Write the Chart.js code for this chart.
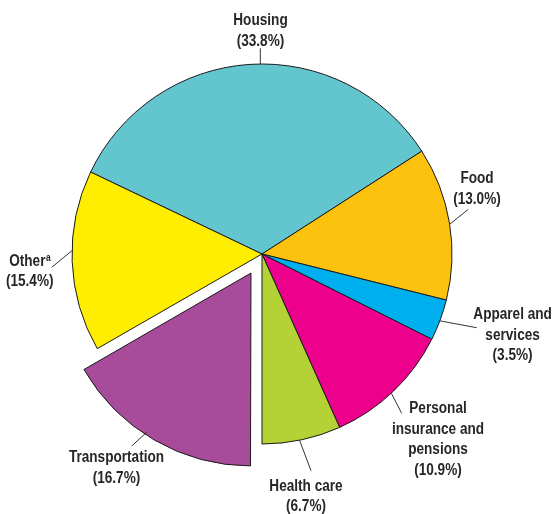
<!DOCTYPE html>
<html>
<head>
<meta charset="utf-8">
<script src="https://cdn.jsdelivr.net/npm/chart.js@4"></script>
<style>
  html, body { margin: 0; padding: 0; background: #ffffff; }
  #wrap { width: 554px; height: 514px; position: relative; }
</style>
</head>
<body>
<div id="wrap"><canvas id="c" width="554" height="514"></canvas></div>
<script>
// ---- data ----
const categories = ['Housing', 'Food', 'Apparel and services', 'Personal insurance and pensions', 'Health care', 'Transportation', 'Other'];
const shares = [33.8, 13.0, 3.5, 10.9, 6.7, 16.7, 15.4];
const labelNames = [['Housing'], ['Food'], ['Apparel and', 'services'], ['Personal', 'insurance and', 'pensions'], ['Health care'], ['Transportation'], ['Other']];
const footnoteMarks = ['', '', '', '', '', '', 'a'];
const explodedIndex = 5;

// ---- styles ----
const colors = ['#63c6cf', '#fdc20e', '#00afee', '#ec008c', '#b4d235', '#a94b9b', '#ffee00'];
const TEXT_COLOR = '#262626';
const FONT = 'bold 16px "Liberation Sans", Arial, sans-serif';
const SUP_FONT = 'bold 10px "Liberation Sans", Arial, sans-serif';
const TEXT_SCALE_X = 0.85;
const LINE_H = 20.5;
const EXPLODE_PX = 22;

// label layout relative to pie centre: leader start angle (deg, clockwise from top),
// leader end offset, text centre x, first baseline y
const labelLayout = [
  { a: -0.5,  end: [-1.7, -205.7], tx: -1.5,   ty: -229 },
  { a: 81.0,  end: [206.3, -44.7], tx: 215,    ty: -71 },
  { a: 110.6, end: [214.7, 73.7],  tx: 250.6,  ty: 65 },
  { a: 137.1, end: [139.7, 159.3], tx: 176,    ty: 159.3 },
  { a: 168.6, end: [49, 216.7],    tx: 44,     ty: 236.7 },
  { a: 213.2, end: [-130.3, 192],  tx: -145.5, ty: 208.3 },
  { a: -89.0, end: [-210.3, 13.3], tx: -232.3, ty: 11.7 }
];

const total = shares.reduce((s, v) => s + v, 0);
const before = shares.slice(0, explodedIndex).reduce((s, v) => s + v, 0);
const rotation = 180 - 360 * before / total;

function drawText(ctx, t, x, y, font) {
  ctx.save();
  ctx.font = font;
  ctx.translate(x, y);
  ctx.scale(TEXT_SCALE_X, 1);
  ctx.textAlign = 'left';
  ctx.fillText(t, 0, 0);
  ctx.restore();
}
function textW(ctx, t, font) {
  ctx.save();
  ctx.font = font;
  const w = ctx.measureText(t).width * TEXT_SCALE_X;
  ctx.restore();
  return w;
}

const labelPlugin = {
  id: 'leaderLabels',
  afterDatasetsDraw(chart) {
    const ctx = chart.ctx;
    const meta = chart.getDatasetMeta(0);
    const arcs = meta.data;
    ctx.save();
    arcs.forEach((arc, i) => {
      const lay = labelLayout[i];
      let cx = arc.x, cy = arc.y;
      const r = arc.outerRadius;
      if (i === explodedIndex) {
        const mid = (arc.startAngle + arc.endAngle) / 2;
        cx += Math.cos(mid) * EXPLODE_PX;
        cy += Math.sin(mid) * EXPLODE_PX;
      }
      const ang = lay.a * Math.PI / 180;
      const sx = cx + Math.sin(ang) * r;
      const sy = cy - Math.cos(ang) * r;
      const ex = arc.x + lay.end[0];
      const ey = arc.y + lay.end[1];
      ctx.strokeStyle = '#333333';
      ctx.lineWidth = 1;
      ctx.beginPath();
      ctx.moveTo(sx, sy);
      ctx.lineTo(ex, ey);
      ctx.stroke();

      const lines = labelNames[i].concat(['(' + shares[i].toFixed(1) + '%)']);
      ctx.fillStyle = TEXT_COLOR;
      ctx.textBaseline = 'alphabetic';
      lines.forEach((t, k) => {
        const x = arc.x + lay.tx;
        const y = arc.y + lay.ty + k * LINE_H;
        const w = textW(ctx, t, FONT);
        if (k === 0 && footnoteMarks[i]) {
          const ws = textW(ctx, footnoteMarks[i], SUP_FONT);
          const left = x - (w + ws) / 2;
          drawText(ctx, t, left, y, FONT);
          drawText(ctx, footnoteMarks[i], left + w + 0.5, y - 5, SUP_FONT);
        } else {
          drawText(ctx, t, x - w / 2, y, FONT);
        }
      });
    });
    ctx.restore();
  }
};

new Chart(document.getElementById('c'), {
  type: 'pie',
  data: {
    labels: categories,
    datasets: [{
      data: shares,
      backgroundColor: colors,
      borderColor: '#1a1a1a',
      borderWidth: 1,
      borderJoinStyle: 'miter',
      // Chart.js v4 arcs translate by offset/4
      offset: shares.map((v, i) => i === explodedIndex ? EXPLODE_PX * 4 : 0)
    }]
  },
  options: {
    responsive: false,
    animation: false,
    rotation: rotation,
    radius: 190,
    layout: { padding: { left: 0, right: 30, top: 0, bottom: 6 } },
    plugins: {
      legend: { display: false },
      tooltip: { enabled: false },
      title: { display: false }
    }
  },
  plugins: [labelPlugin]
});
</script>
</body>
</html>
